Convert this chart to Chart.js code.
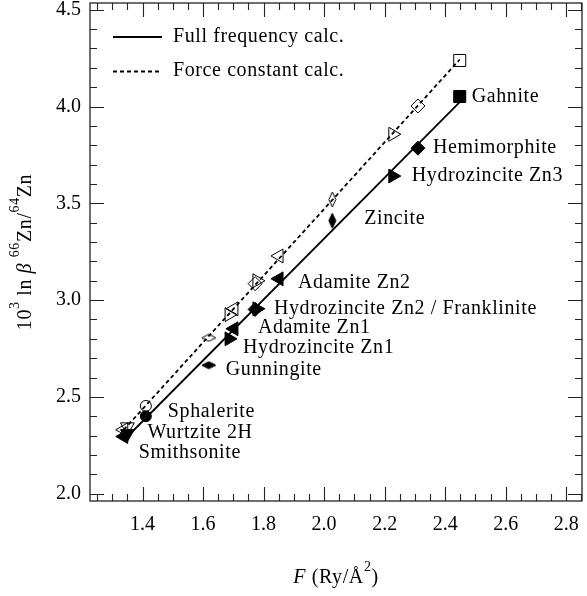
<!DOCTYPE html>
<html>
<head>
<meta charset="utf-8">
<script src="https://cdn.jsdelivr.net/npm/chart.js@4.4.1/dist/chart.umd.min.js"></script>
<style>
  html, body { margin: 0; padding: 0; background: #fff; }
  #wrap { width: 587px; height: 596px; }
</style>
</head>
<body>
<div id="wrap"><canvas id="chart" width="587" height="596"></canvas></div>
<script>
// Data
const minerals = ['Smithsonite', 'Wurtzite 2H', 'Sphalerite', 'Gunningite', 'Hydrozincite Zn1', 'Adamite Zn1',
  'Hydrozincite Zn2', 'Franklinite', 'Adamite Zn2', 'Zincite', 'Hydrozincite Zn3', 'Hemimorphite', 'Gahnite'];
const forceF = [1.338, 1.350, 1.411, 1.619, 1.686, 1.702, 1.778, 1.772, 1.851, 2.027, 2.227, 2.310, 2.448];
const fullFreq = [2.295, 2.310, 2.400, 2.664, 2.800, 2.852, 2.955, 2.952, 3.110, 3.410, 3.641, 3.785, 4.052];
const forceConst = [2.330, 2.345, 2.453, 2.805, 2.925, 2.955, 3.100, 3.085, 3.228, 3.520, 3.857, 4.003, 4.238];
const markerKinds = ['tri-left', 'tri-down', 'circle', 'hdiamond', 'tri-right', 'tri-left',
  'tri-right', 'diamond', 'tri-left', 'vdiamond', 'tri-right', 'diamond', 'square'];

// Annotation labels (index of anchor mineral)
const labelTexts = ['Gahnite', 'Hemimorphite', 'Hydrozincite Zn3', 'Zincite', 'Adamite Zn2',
  'Hydrozincite Zn2 / Franklinite', 'Adamite Zn1', 'Hydrozincite Zn1', 'Gunningite', 'Sphalerite',
  'Wurtzite 2H', 'Smithsonite'];
const labelAnchors = [12, 11, 10, 9, 8, 6, 5, 4, 3, 2, 1, 0];
const labelOffsets = [[12, 0], [15, 0], [19, 0], [32, -2], [19, 4], [17, 0], [24, -1], [14, 9], [17, 5], [22, -4], [20, -1], [15, 16]];

const xTickLabels = [1.4, 1.6, 1.8, 2.0, 2.2, 2.4, 2.6, 2.8];
const yTickLabels = [2.0, 2.5, 3.0, 3.5, 4.0, 4.5];

const X_MIN = 1.2265, X_MAX = 2.852, Y_MIN = 1.962, Y_MAX = 4.535;
const FONT = '"Liberation Serif", "DejaVu Serif", serif';
const FS = 20;

function thinDiamond(w, h, filled) {
  const c = document.createElement('canvas');
  c.width = w + 2; c.height = h + 2;
  const g = c.getContext('2d');
  g.beginPath();
  g.moveTo(c.width / 2, 1);
  g.lineTo(c.width - 1, c.height / 2);
  g.lineTo(c.width / 2, c.height - 1);
  g.lineTo(1, c.height / 2);
  g.closePath();
  if (filled) { g.fillStyle = '#000'; g.fill(); }
  g.lineWidth = 1;
  g.strokeStyle = '#000';
  g.stroke();
  return c;
}

function marker(kind, filled) {
  switch (kind) {
    case 'tri-left': return { style: 'triangle', rot: -90, r: 8 };
    case 'tri-right': return { style: 'triangle', rot: 90, r: 8 };
    case 'tri-down': return { style: 'triangle', rot: 180, r: 8 };
    case 'circle': return { style: 'circle', rot: 0, r: 5.5 };
    case 'diamond': return { style: 'rectRot', rot: 0, r: 7 };
    case 'square': return { style: 'rect', rot: 0, r: 8.5 };
    case 'vdiamond': return { style: thinDiamond(7, 15, filled), rot: 0, r: 7 };
    case 'hdiamond': return { style: thinDiamond(14, 7, filled), rot: 0, r: 7 };
  }
}

function fitLine(xs, ys) {
  const n = xs.length;
  const mx = xs.reduce((a, b) => a + b, 0) / n;
  const my = ys.reduce((a, b) => a + b, 0) / n;
  let sxy = 0, sxx = 0;
  xs.forEach((x, i) => { sxy += (x - mx) * (ys[i] - my); sxx += (x - mx) * (x - mx); });
  const k = sxy / sxx;
  const x0 = Math.min(...xs), x1 = Math.max(...xs);
  return [{ x: x0, y: my + k * (x0 - mx) }, { x: x1, y: my + k * (x1 - mx) }];
}

function markerDataset(ys, filled) {
  const ms = markerKinds.map(k => marker(k, filled));
  return {
    type: 'scatter',
    data: forceF.map((x, i) => ({ x: x, y: ys[i] })),
    pointStyle: ms.map(m => m.style),
    pointRotation: ms.map(m => m.rot),
    pointRadius: ms.map(m => m.r),
    pointHoverRadius: ms.map(m => m.r),
    pointBackgroundColor: filled ? '#000' : 'rgba(0,0,0,0)',
    pointBorderColor: '#000',
    pointBorderWidth: 1,
    showLine: false
  };
}

function drawParts(ctx, parts, cx, cy, size) {
  const supSize = Math.round(size * 0.7);
  const fontOf = p => (p.italic ? 'italic ' : '') + (p.sup ? supSize : size) + 'px ' + FONT;
  let total = 0;
  parts.forEach(p => { ctx.font = fontOf(p); total += ctx.measureText(p.t).width; });
  let x = cx - total / 2;
  ctx.textAlign = 'left';
  ctx.textBaseline = 'alphabetic';
  parts.forEach(p => {
    ctx.font = fontOf(p);
    ctx.fillText(p.t, x, cy + (p.sup ? -size * 0.6 : 0));
    x += ctx.measureText(p.t).width;
  });
}

const decorPlugin = {
  id: 'decor',
  afterDatasetsDraw(chart) {
    const { ctx, chartArea: a, scales } = chart;
    const xs = scales.x, ys = scales.y;
    ctx.save();
    // frame
    ctx.strokeStyle = '#222';
    ctx.lineWidth = 1.3;
    ctx.strokeRect(a.left, a.top, a.right - a.left, a.bottom - a.top);
    // inward ticks on all four sides
    ctx.lineWidth = 1.1;
    ctx.beginPath();
    for (let i = 25; i <= 285; i += 5) {
      const v = i / 100;
      if (v < X_MIN || v > X_MAX) continue;
      const px = Math.round(xs.getPixelForValue(v)) + 0.5;
      const len = i % 20 === 0 ? 14 : 7;
      ctx.moveTo(px, a.bottom); ctx.lineTo(px, a.bottom - len);
      ctx.moveTo(px, a.top); ctx.lineTo(px, a.top + len);
    }
    for (let i = 20; i <= 45; i++) {
      const v = i / 10;
      const py = Math.round(ys.getPixelForValue(v)) + 0.5;
      const len = i % 5 === 0 ? 14 : 7;
      ctx.moveTo(a.left, py); ctx.lineTo(a.left + len, py);
      ctx.moveTo(a.right, py); ctx.lineTo(a.right - len, py);
    }
    ctx.stroke();

    // tick labels
    ctx.fillStyle = '#000';
    ctx.font = FS + 'px ' + FONT;
    ctx.textBaseline = 'middle';
    ctx.textAlign = 'center';
    xTickLabels.forEach(v => ctx.fillText(v.toFixed(1), xs.getPixelForValue(v), a.bottom + 24));
    ctx.textAlign = 'right';
    yTickLabels.forEach(v => ctx.fillText(v.toFixed(1), a.left - 9, ys.getPixelForValue(v)));

    // legend
    ctx.strokeStyle = '#000';
    ctx.lineWidth = 1.8;
    ctx.beginPath();
    ctx.moveTo(113, 37); ctx.lineTo(162, 37);
    ctx.stroke();
    ctx.setLineDash([4, 3]);
    ctx.beginPath();
    ctx.moveTo(113, 71.5); ctx.lineTo(162, 71.5);
    ctx.stroke();
    ctx.setLineDash([]);
    ctx.letterSpacing = '0.6px';
    ctx.textAlign = 'left';
    ctx.fillText('Full frequency calc.', 173, 37);
    ctx.fillText('Force constant calc.', 173, 71);

    // point labels
    labelTexts.forEach((t, i) => {
      const k = labelAnchors[i];
      const px = xs.getPixelForValue(forceF[k]) + labelOffsets[i][0];
      const py = ys.getPixelForValue(fullFreq[k]) + labelOffsets[i][1];
      ctx.fillText(t, px, py);
    });

    // axis titles
    drawParts(ctx, [
      { t: 'F', italic: true }, { t: ' (Ry/Å' }, { t: '2', sup: true }, { t: ')' }
    ], (a.left + a.right) / 2, 583, FS);
    ctx.translate(31, (a.top + a.bottom) / 2);
    ctx.rotate(-Math.PI / 2);
    drawParts(ctx, [
      { t: '10' }, { t: '3', sup: true }, { t: ' ln ' }, { t: 'β', italic: true }, { t: ' ' },
      { t: '66', sup: true }, { t: 'Zn/' }, { t: '64', sup: true }, { t: 'Zn' }
    ], 0, 0, FS);
    ctx.letterSpacing = '0px';
    ctx.restore();
  }
};

const ctx = document.getElementById('chart').getContext('2d');
new Chart(ctx, {
  type: 'scatter',
  data: {
    datasets: [
      {
        type: 'line', data: fitLine(forceF, fullFreq), borderColor: '#000', borderWidth: 1.8,
        pointRadius: 0, fill: false, tension: 0
      },
      {
        type: 'line', data: fitLine(forceF, forceConst), borderColor: '#000', borderWidth: 1.8,
        borderDash: [4, 3], pointRadius: 0, fill: false, tension: 0
      },
      markerDataset(fullFreq, true),
      markerDataset(forceConst, false)
    ]
  },
  options: {
    responsive: false,
    animation: false,
    layout: { autoPadding: false, padding: { top: 3, right: 5, left: 0, bottom: 0 } },
    plugins: {
      legend: { display: false },
      tooltip: { enabled: false }
    },
    scales: {
      x: {
        type: 'linear', min: X_MIN, max: X_MAX,
        grid: { display: false, drawTicks: false },
        border: { display: false },
        ticks: { display: false },
        afterFit: s => { s.height = 95; }
      },
      y: {
        type: 'linear', min: Y_MIN, max: Y_MAX,
        grid: { display: false, drawTicks: false },
        border: { display: false },
        ticks: { display: false },
        afterFit: s => { s.width = 90; }
      }
    }
  },
  plugins: [decorPlugin]
});
</script>
</body>
</html>
